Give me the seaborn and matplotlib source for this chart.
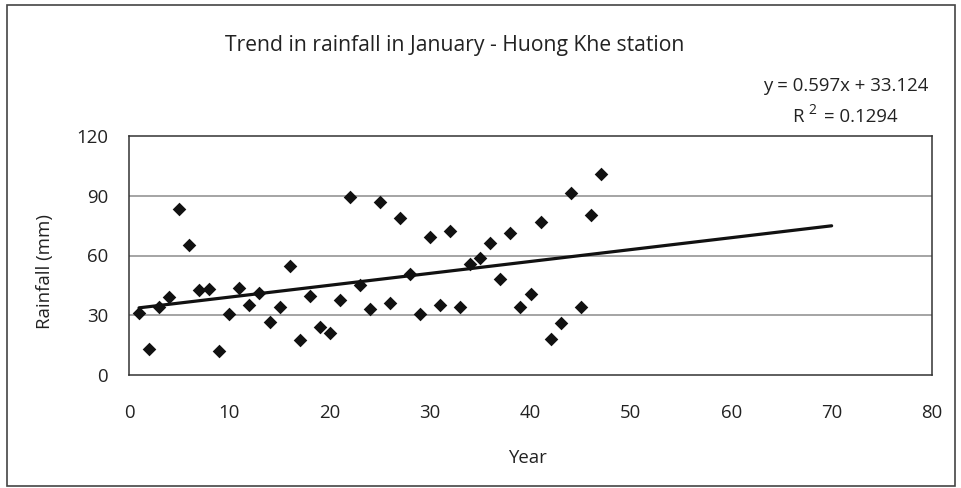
import numpy as np
import pandas as pd
import matplotlib
matplotlib.use("Agg")
import matplotlib.pyplot as plt
import seaborn as sns
from matplotlib.patches import Rectangle

# January rainfall by year index
years = list(range(1, 48))
rainfall = [31.3, 12.9, 34.0, 39.3, 83.3, 65.5, 42.6, 43.4, 12.1, 30.5,
            43.7, 35.2, 41.0, 26.6, 34.2, 54.6, 17.6, 39.9, 24.0, 21.3,
            37.8, 89.6, 45.2, 33.2, 86.9, 36.0, 78.7, 50.8, 30.5, 69.3,
            35.2, 72.2, 34.2, 55.6, 58.5, 66.5, 48.1, 71.2, 34.2, 40.7,
            76.9, 18.3, 26.0, 91.6, 34.0, 80.2, 100.9]

# Linear trend coefficients and fit quality
slope = 0.597
intercept = 33.124
r_squared = 0.1294
trend_range = [1, 70]

x_ticks = [0, 10, 20, 30, 40, 50, 60, 70, 80]
y_ticks = [0, 30, 60, 90, 120]

sns.set_theme(style="white")
plt.rcParams["font.family"] = ["Open Sans", "DejaVu Sans"]

FS = 13.4
TXT = "#222222"
W, H = 961, 488

def fx(px):
    return px / W

def fy(py):
    return 1 - py / H

fig = plt.figure(figsize=(9.61, 4.88), dpi=100)
ax = fig.add_axes([fx(129), fy(375), (932 - 129) / W, (375 - 136) / H])

df = pd.DataFrame({"Year": years, "Rainfall": rainfall})
trend = pd.DataFrame({"Year": trend_range,
                      "Rainfall": [slope * x + intercept for x in trend_range]})

sns.scatterplot(data=df, x="Year", y="Rainfall", marker="D", s=48,
                color="#111111", linewidth=0, ax=ax, zorder=3)
sns.lineplot(data=trend, x="Year", y="Rainfall", color="#111111",
             linewidth=2.3, ax=ax, zorder=2)

ax.set_xlim(0, 80)
ax.set_ylim(0, 120)
ax.set_xticks(x_ticks)
ax.set_yticks(y_ticks)
ax.tick_params(axis="both", which="both", labelsize=FS, colors="#333333",
               labelcolor=TXT, direction="out", length=8, width=1.1, pad=7)
ax.tick_params(axis="x", length=8, pad=13)

# Horizontal grid lines
for yv in [30, 60, 90]:
    ax.axhline(yv, color="#8c8c8c", linewidth=1.1, zorder=1)

for side in ["left", "top", "right", "bottom"]:
    ax.spines[side].set_visible(True)
    ax.spines[side].set_color("#333333")
    ax.spines[side].set_linewidth(1.1)

ax.set_xlabel("")
ax.set_ylabel("")
fig.text(fx(528), fy(458), "Year", ha="center", va="center",
         fontsize=FS, color=TXT)
fig.text(fx(45), fy(272), "Rainfall (mm)", ha="center", va="center",
         rotation=90, fontsize=FS, color=TXT)

fig.text(fx(455), fy(45), "Trend in rainfall in January - Huong Khe station",
         ha="center", va="center", fontsize=15.2, color=TXT)
fig.text(fx(928), fy(86), f"y = {slope}x + {intercept}",
         ha="right", va="center", fontsize=FS, color=TXT)
fig.text(fx(898), fy(117), f"= {r_squared}",
         ha="right", va="center", fontsize=FS, color=TXT)
fig.text(fx(792), fy(117), "R",
         ha="left", va="center", fontsize=FS, color=TXT)
fig.text(fx(808), fy(110), "2",
         ha="left", va="center", fontsize=10, color=TXT)

# Outer chart frame
fig.patches.append(Rectangle((fx(7), fy(486)), (955 - 7) / W, (486 - 5) / H,
                             transform=fig.transFigure, fill=False,
                             edgecolor="#444444", linewidth=1.2))

fig.savefig("out.png", dpi=100)
